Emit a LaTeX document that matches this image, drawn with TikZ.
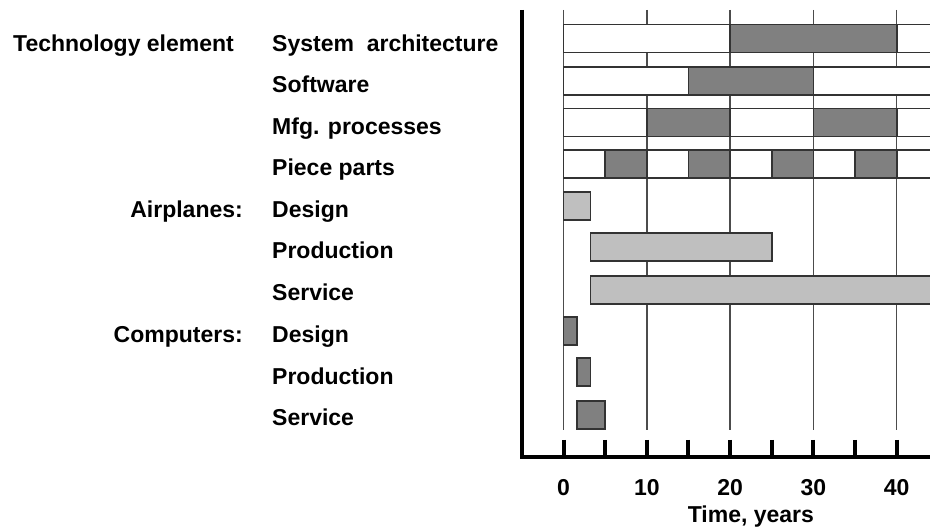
\documentclass[tikz,border=0pt]{standalone}
\usepackage{fontspec}
\setmainfont{Liberation Sans}
\begin{document}
\begin{tikzpicture}[x=1pt,y=-1pt,
  lbl/.style={inner sep=0pt, font=\fontsize{23}{27}\selectfont\bfseries},
  rowbox/.style={draw=black!80, line width=1.6pt, fill=white},
  darkbar/.style={draw=black!80, line width=1.6pt, fill=black!50},
  lightbar/.style={draw=black!80, line width=1.6pt, fill=black!25},
  gridline/.style={draw=black!70, line width=1.4pt},
  axisline/.style={line width=4pt, draw=black, line join=miter}]
\useasboundingbox (0,0) rectangle (930,529);
\clip (0,0) rectangle (930,529);

% left labels
\node[lbl, anchor=base west] (tech) at (13,52) {Technology element};
\node[lbl, anchor=base east] (air) at (243,218) {Airplanes:};
\node[lbl, anchor=base east] (comp) at (243,343) {Computers:};

\node[lbl, anchor=base west] (sa) at (272,52) {System\ \ architecture};
\node[lbl, anchor=base west] (sw) at (272,93) {Software};
\node[lbl, anchor=base west] (mfg) at (272,135) {Mfg. processes};
\node[lbl, anchor=base west] (pp) at (272,176) {Piece parts};
\node[lbl, anchor=base west] (ad) at (272,218) {Design};
\node[lbl, anchor=base west] (ap) at (272,259) {Production};
\node[lbl, anchor=base west] (as) at (272,301) {Service};
\node[lbl, anchor=base west] (cd) at (272,343) {Design};
\node[lbl, anchor=base west] (cp) at (272,385) {Production};
\node[lbl, anchor=base west] (cs) at (272,426) {Service};

\begin{scope}[xshift=563.5pt, x=8.33pt]
  % grid lines
  \foreach \t in {0,10,...,40} \draw[gridline] (\t,10) -- (\t,430);
  % technology rows
  \foreach \c in {38.5,81,122.5,164} \draw[rowbox] (0,{\c-14}) rectangle (50,{\c+14});
  % dark bars in technology rows
  \draw[darkbar] (20,24.5) rectangle (40,52.5);
  \draw[darkbar] (15,67) rectangle (30,95);
  \draw[darkbar] (10,108.5) rectangle (20,136.5);
  \draw[darkbar] (30,108.5) rectangle (40,136.5);
  \foreach \s in {5,15,25,35} \draw[darkbar] (\s,150) rectangle ({\s+5},178);
  % airplanes
  \draw[lightbar] (0,192) rectangle (3.25,220);
  \draw[lightbar] (3.25,233) rectangle (25,261);
  \draw[lightbar] (3.25,276) rectangle (50,304);
  % computers
  \draw[darkbar] (0,317) rectangle (1.65,345);
  \draw[darkbar] (1.65,358) rectangle (3.25,386);
  \draw[darkbar] (1.65,401) rectangle (5,429);
  % axes
  \draw[axisline] (-5,10) -- (-5,457) -- (50,457);
  \foreach \t in {0,5,...,40} \draw[axisline] (\t,440) -- (\t,457);
  \foreach \t in {0,10,...,40} \node[lbl, anchor=base] (t\t) at (\t,496) {\t};
  \node[lbl, anchor=base] (xlab) at (22.5,522) {Time, years};
\end{scope}
\end{tikzpicture}
\end{document}
